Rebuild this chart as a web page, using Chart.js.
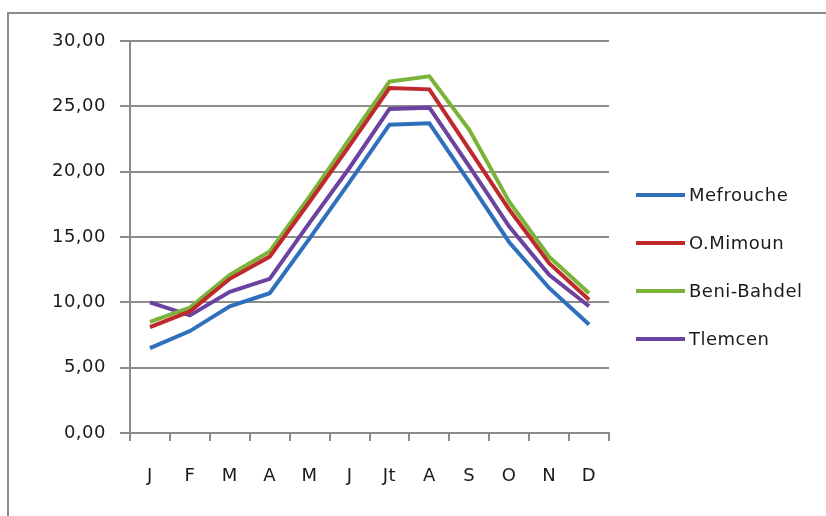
<!DOCTYPE html>
<html>
<head>
<meta charset="utf-8">
<script src="https://cdn.jsdelivr.net/npm/chart.js@4/dist/chart.umd.min.js"></script>
<style>
  html, body { margin: 0; padding: 0; background: #fff; }
  #wrap { width: 826px; height: 516px; }
</style>
</head>
<body>
<div id="wrap"><canvas id="chart" width="826" height="516"></canvas></div>
<script>
const months = ["J", "F", "M", "A", "M", "J", "Jt", "A", "S", "O", "N", "D"];
const mefrouche = [6.5, 7.8, 9.7, 10.7, 14.9, 19.2, 23.6, 23.7, 19.2, 14.6, 11.1, 8.3];
const oMimoun = [8.1, 9.3, 11.8, 13.5, 17.7, 22.0, 26.4, 26.3, 21.7, 17.1, 13.0, 10.2];
const beniBahdel = [8.5, 9.6, 12.1, 13.9, 18.1, 22.5, 26.9, 27.3, 23.2, 17.7, 13.5, 10.7];
const tlemcen = [10.0, 9.0, 10.8, 11.8, 16.1, 20.3, 24.8, 24.9, 20.4, 15.8, 12.1, 9.7];

const font = "'DejaVu Sans', sans-serif";

// slight letter spacing, the original text is Calibri with ClearType
const spacing = {
  id: "spacing",
  beforeDraw(chart) {
    chart.ctx.letterSpacing = "0.5px";
  }
};

// frame around the whole chart + legend on the right
const frameAndLegend = {
  id: "frameAndLegend",
  afterDraw(chart) {
    const ctx = chart.ctx;
    ctx.save();
    ctx.strokeStyle = "#8c8c8c";
    ctx.lineWidth = 2;
    ctx.strokeRect(8, 13, 830, 520);

    ctx.font = "18px " + font;
    ctx.letterSpacing = "0.5px";
    ctx.textBaseline = "middle";
    ctx.fillStyle = "#1a1a1a";
    chart.data.datasets.forEach((ds, i) => {
      const y = 195 + i * 48;
      ctx.strokeStyle = ds.borderColor;
      ctx.lineWidth = 4;
      ctx.beginPath();
      ctx.moveTo(636, y);
      ctx.lineTo(685, y);
      ctx.stroke();
      ctx.fillText(ds.label, 689, y + 1);
    });
    ctx.restore();
  }
};

const ctx = document.getElementById("chart").getContext("2d");
new Chart(ctx, {
  type: "line",
  data: {
    labels: months,
    datasets: [
      { label: "Mefrouche", data: mefrouche, borderColor: "#2f70bd" },
      { label: "O.Mimoun", data: oMimoun, borderColor: "#c0292b" },
      { label: "Beni-Bahdel", data: beniBahdel, borderColor: "#7ab338" },
      { label: "Tlemcen", data: tlemcen, borderColor: "#6b42a0" }
    ].map(d => Object.assign(d, {
      borderWidth: 4,
      pointRadius: 0,
      tension: 0,
      fill: false
    }))
  },
  options: {
    responsive: false,
    animation: false,
    layout: { padding: { left: 0, right: 217, top: 41, bottom: 13 } },
    plugins: {
      legend: { display: false },
      tooltip: { enabled: false }
    },
    scales: {
      x: {
        offset: true,
        afterFit: s => { s.height = 70; },
        grid: {
          offset: true,
          drawOnChartArea: false,
          drawTicks: true,
          tickLength: 8,
          color: "#8c8c8c",
          lineWidth: 2
        },
        border: { color: "#8c8c8c", width: 2 },
        ticks: {
          padding: 25,
          maxRotation: 0,
          color: "#1a1a1a",
          font: { family: font, size: 18 }
        }
      },
      y: {
        min: 0,
        max: 30,
        afterFit: s => { s.width = 130; },
        grid: {
          color: "#8c8c8c",
          lineWidth: 2,
          drawTicks: true,
          tickLength: 10
        },
        border: { color: "#8c8c8c", width: 2 },
        ticks: {
          stepSize: 5,
          padding: 14,
          color: "#1a1a1a",
          font: { family: font, size: 18 },
          callback: v => v.toFixed(2).replace(".", ",")
        }
      }
    }
  },
  plugins: [spacing, frameAndLegend]
});
</script>
</body>
</html>
